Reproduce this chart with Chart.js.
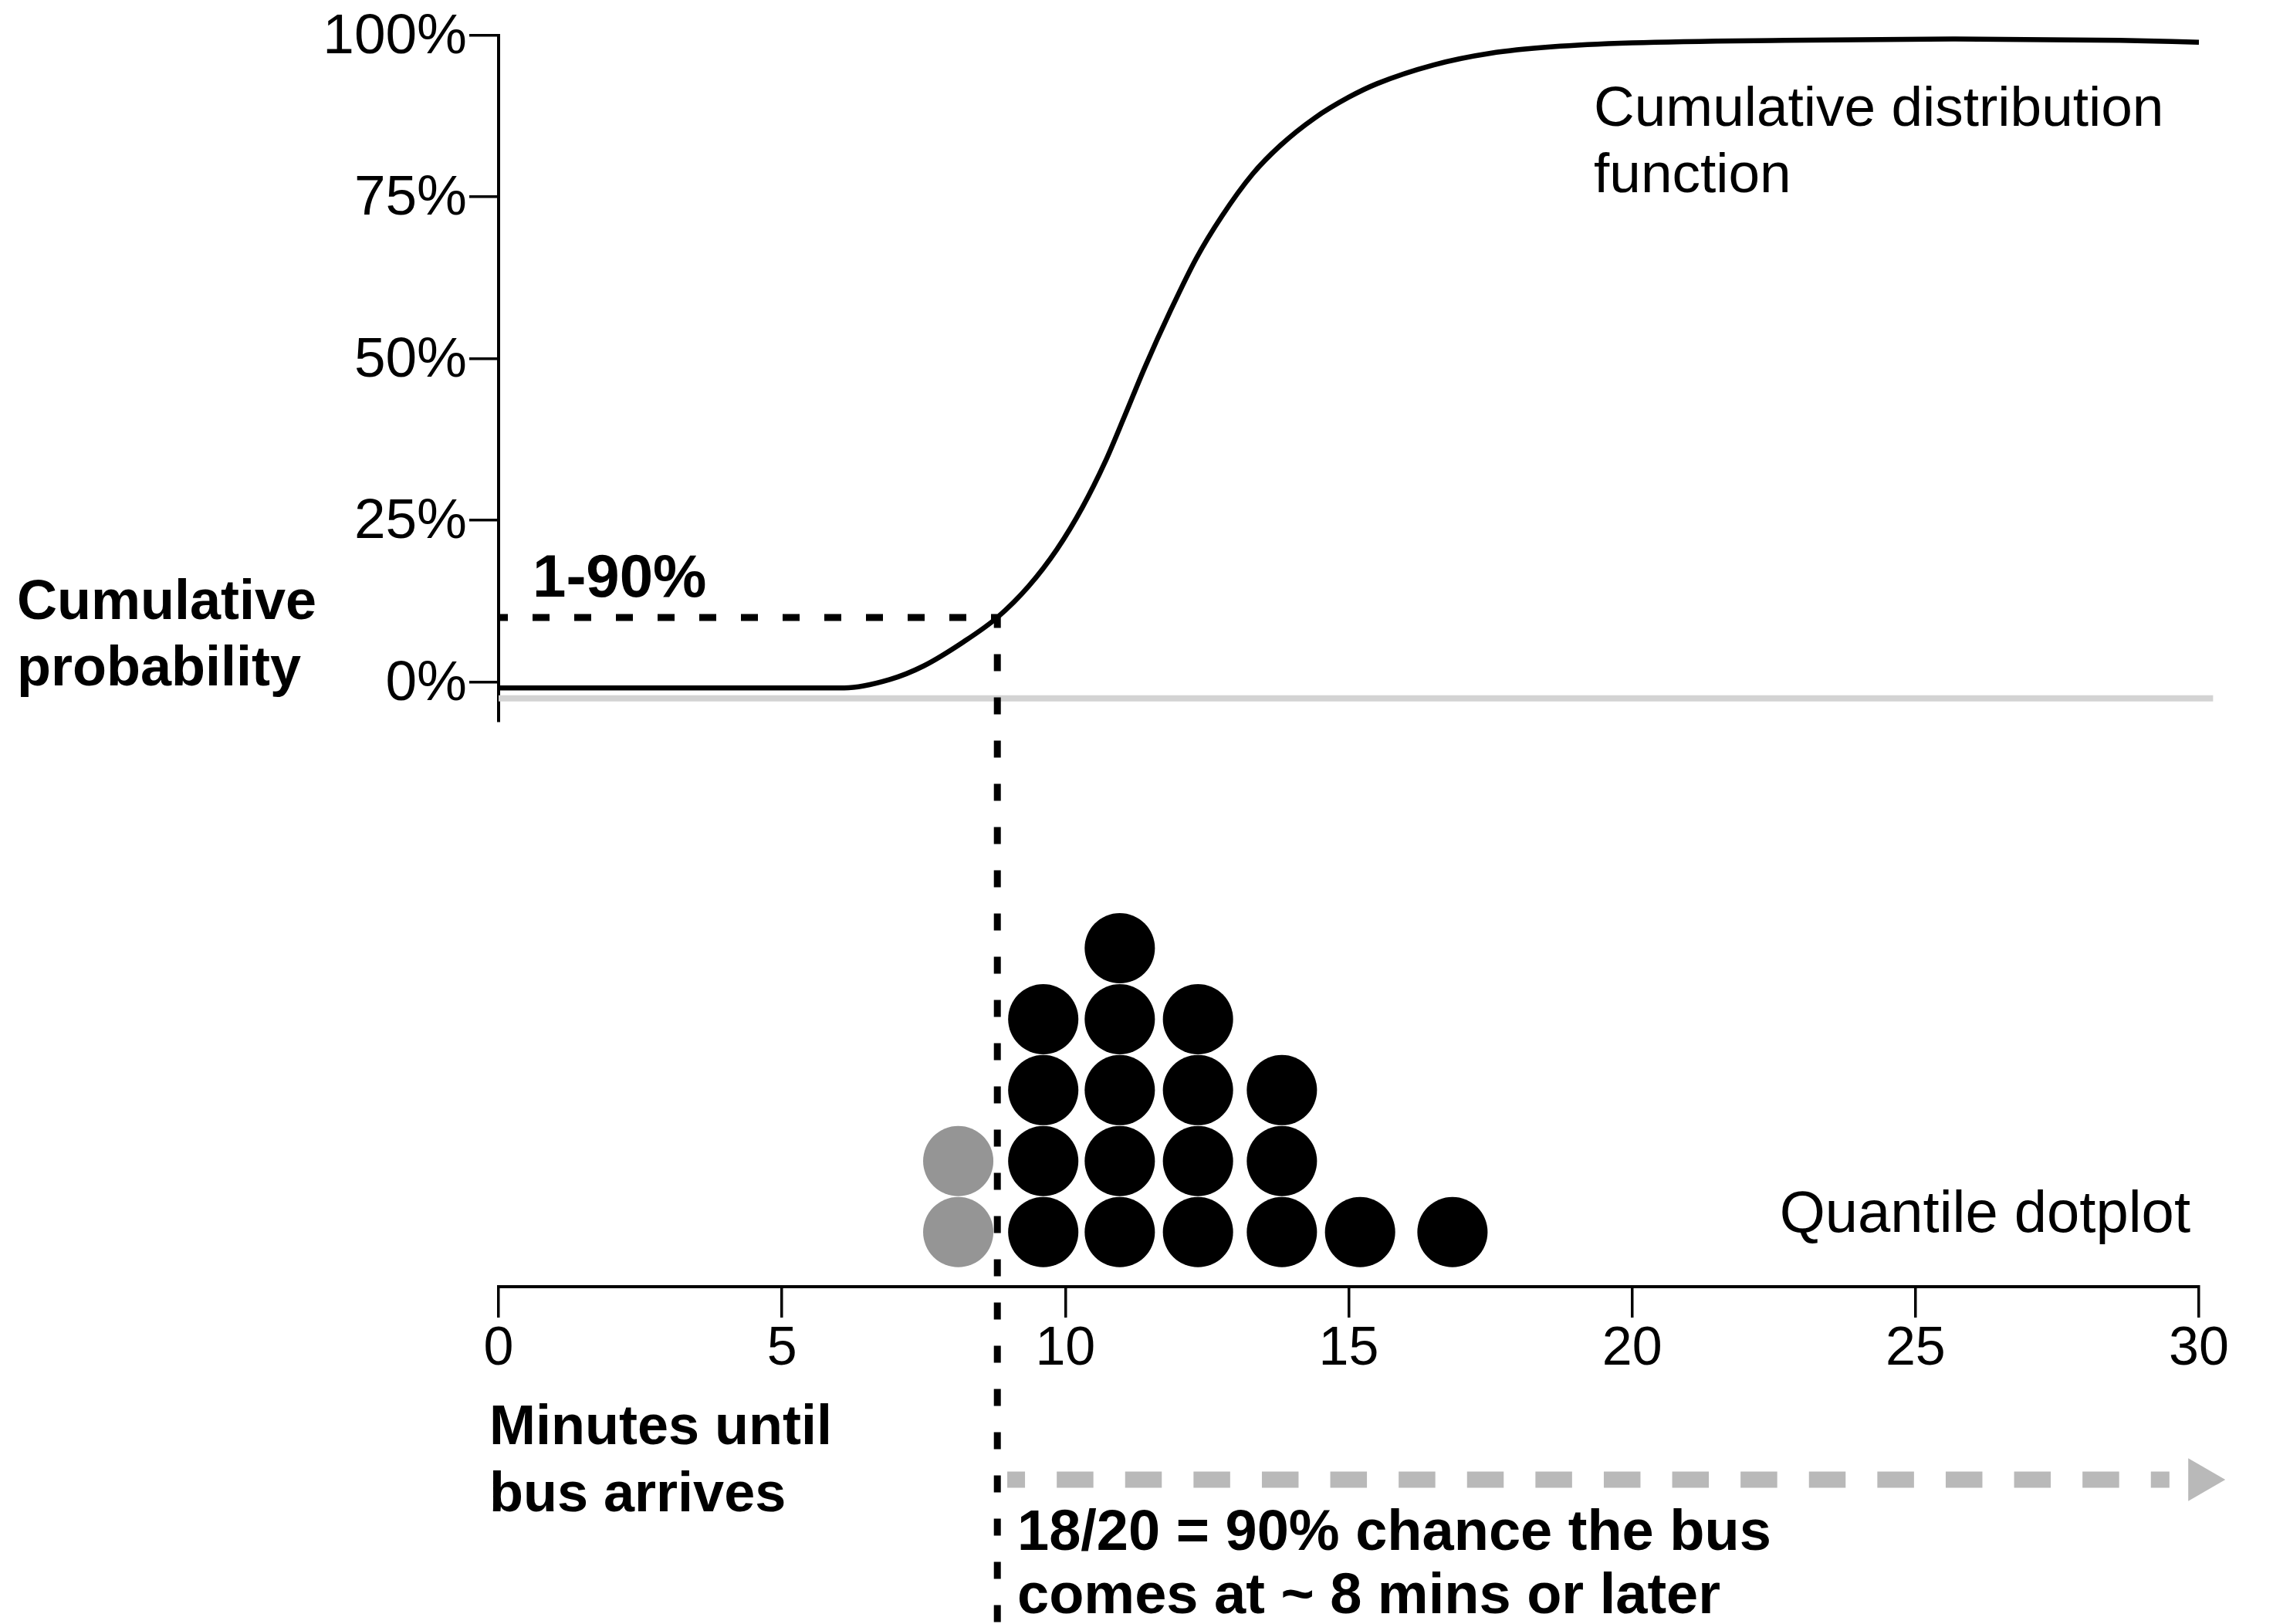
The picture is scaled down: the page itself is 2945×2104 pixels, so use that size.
<!DOCTYPE html>
<html>
<head>
<meta charset="utf-8">
<script src="https://cdn.jsdelivr.net/npm/chart.js@4.4.1/dist/chart.umd.min.js"></script>
<style>
  html, body { margin: 0; padding: 0; background: #ffffff; overflow: hidden; }
  canvas { display: block; }
</style>
</head>
<body>
<canvas id="chart" width="2945" height="2104"></canvas>
<script>
// ---------------- data ----------------
const xTickValues = [0, 5, 10, 15, 20, 25, 30];
const yTickValues = [0, 25, 50, 75, 100];

// Cumulative distribution function (minutes -> cumulative %)
const cdfX = [0, 6.1, 6.9, 7.5, 8.2, 8.8, 9.35, 9.85, 10.3, 10.7, 11.04, 11.4, 11.86, 12.31, 12.76, 13.3, 13.8, 14.4, 15.0, 15.5, 16.5, 17.5, 18.6, 20.0, 22.7, 25.7, 28.6, 30];
const cdfY = [-0.9, -0.9, 0.4, 2.5, 6.2, 10, 14.8, 20.5, 27, 34, 41, 48.6, 57.5, 65.5, 72, 78.5, 83, 87.2, 90.4, 92.5, 95.4, 97.2, 98.2, 98.8, 99.2, 99.4, 99.2, 98.9];

// Quantile dotplot: 20 quantiles stacked in columns
const dotColumnX = [8.11, 9.61, 10.96, 12.34, 13.82, 15.2, 16.83];
const dotColumnCount = [2, 4, 5, 4, 3, 1, 1];

// Threshold guide (1-90% quantile)
const thresholdX = 8.8;
const thresholdP = 10;
const guideBottomP = -150;

// Light reference line under the CDF
const baselineX = [0, 30.25];
const baselineP = -2.5;

// "later" arrow
const arrowX = [8.975, 29.48];
const arrowHeadX = 30.03;
const arrowRow = -3.49;

// Text
const yAxisTitle = ['Cumulative', 'probability'];
const xAxisTitle = ['Minutes until', 'bus arrives'];
const cdfLabel = ['Cumulative distribution', 'function'];
const dotLabel = ['Quantile dotplot'];
const thresholdLabel = ['1-90%'];
const noteLines = ['18/20 = 90% chance the bus', 'comes at ~ 8 mins or later'];

// ---------------- build ----------------
const FONT = "'Liberation Sans', Arial, Helvetica, sans-serif";
const INK = '#000000';
const DOT_GRAY = '#959595';
const ARROW_GRAY = '#b9b9b9';

const dotPoints = [];
const dotColors = [];
dotColumnX.forEach((x, i) => {
  for (let k = 0; k < dotColumnCount[i]; k++) {
    dotPoints.push({ x: x, y: k });
    dotColors.push(x < thresholdX ? DOT_GRAY : INK);
  }
});

const annotations = [
  { lines: yAxisTitle, x: 22, y: 802, gap: 86, align: 'left', bold: true, size: 72 },
  { lines: thresholdLabel, x: 690, y: 773, gap: 86, align: 'left', bold: true, size: 78 },
  { lines: cdfLabel, x: 2065, y: 163, gap: 86, align: 'left', bold: false, size: 73 },
  { lines: dotLabel, x: 2838, y: 1596, gap: 86, align: 'right', bold: false, size: 76 },
  { lines: xAxisTitle, x: 634, y: 1871, gap: 87, align: 'left', bold: true, size: 72 },
  { lines: noteLines, x: 1318, y: 2008, gap: 82, align: 'left', bold: true, size: 74 }
];

const textPlugin = {
  id: 'textAnnotations',
  afterDraw(chart) {
    const ctx = chart.ctx;
    ctx.save();
    ctx.fillStyle = INK;
    ctx.textBaseline = 'alphabetic';
    annotations.forEach(a => {
      ctx.font = (a.bold ? 'bold ' : '') + a.size + 'px ' + FONT;
      ctx.textAlign = a.align;
      a.lines.forEach((t, i) => ctx.fillText(t, a.x, a.y + i * a.gap));
    });
    ctx.restore();
  }
};

// lets a dataset's point elements render outside the plot area (arrow head below the axis)
const outsideAreaPlugin = {
  id: 'outsideArea',
  beforeDatasetDraw(chart, args) {
    if (chart.data.datasets[args.index].drawOutsideArea) {
      chart._savedArea = chart.chartArea;
      chart.chartArea = { left: 0, top: 0, right: chart.width, bottom: chart.height, width: chart.width, height: chart.height };
    }
  },
  afterDatasetDraw(chart) {
    if (chart._savedArea) {
      chart.chartArea = chart._savedArea;
      chart._savedArea = null;
    }
  }
};

const ctx = document.getElementById('chart').getContext('2d');
new Chart(ctx, {
  type: 'scatter',
  data: {
    datasets: [
      {
        label: 'Quantile dotplot',
        type: 'scatter',
        data: dotPoints,
        yAxisID: 'yDots',
        pointRadius: 45.5,
        pointBackgroundColor: dotColors,
        pointBorderWidth: 0,
        borderWidth: 0,
        order: 1,
        clip: false
      },
      {
        label: 'Cumulative distribution function',
        type: 'line',
        data: cdfX.map((x, i) => ({ x: x, y: cdfY[i] })),
        yAxisID: 'y',
        borderColor: INK,
        borderWidth: 6.5,
        pointRadius: 0,
        cubicInterpolationMode: 'monotone',
        fill: false,
        order: 2,
        clip: false
      },
      {
        label: 'threshold horizontal',
        type: 'line',
        data: [{ x: 0, y: thresholdP }, { x: thresholdX, y: thresholdP }],
        yAxisID: 'y',
        borderColor: INK,
        borderWidth: 9,
        borderDash: [22, 32],
        borderDashOffset: 10,
        borderCapStyle: 'butt',
        pointRadius: 0,
        fill: false,
        order: 3,
        clip: false
      },
      {
        label: 'threshold vertical',
        type: 'line',
        data: [{ x: thresholdX, y: thresholdP }, { x: thresholdX, y: guideBottomP }],
        yAxisID: 'y',
        borderColor: INK,
        borderWidth: 9,
        borderDash: [22, 34],
        borderDashOffset: 8.4,
        borderCapStyle: 'butt',
        pointRadius: 0,
        fill: false,
        order: 3,
        clip: false
      },
      {
        label: 'later arrow',
        type: 'line',
        data: arrowX.map(x => ({ x: x, y: arrowRow })),
        yAxisID: 'yDots',
        borderColor: ARROW_GRAY,
        borderWidth: 21,
        borderDash: [47.5, 41.1],
        borderDashOffset: 24.5,
        borderCapStyle: 'butt',
        pointRadius: 0,
        fill: false,
        order: 4,
        clip: false
      },
      {
        label: 'later arrow head',
        type: 'scatter',
        data: [{ x: arrowHeadX, y: arrowRow }],
        yAxisID: 'yDots',
        pointStyle: 'triangle',
        pointRotation: 90,
        pointRadius: 32,
        pointBackgroundColor: ARROW_GRAY,
        pointBorderColor: ARROW_GRAY,
        pointBorderWidth: 0,
        borderWidth: 0,
        order: 4,
        clip: false,
        drawOutsideArea: true
      },
      {
        label: 'zero reference',
        type: 'line',
        data: baselineX.map(x => ({ x: x, y: baselineP })),
        yAxisID: 'y',
        borderColor: '#d3d3d3',
        borderWidth: 8,
        pointRadius: 0,
        fill: false,
        order: 9,
        clip: false
      }
    ]
  },
  options: {
    responsive: false,
    animation: false,
    devicePixelRatio: 1,
    events: [],
    layout: { padding: { top: 44.6, right: 96, bottom: 0, left: 0 } },
    plugins: { legend: { display: false }, tooltip: { enabled: false } },
    scales: {
      x: {
        type: 'linear',
        position: 'bottom',
        min: 0,
        max: 30,
        afterBuildTicks: s => { s.ticks = xTickValues.map(v => ({ value: v })); },
        afterFit: s => { s.height = 437; },
        grid: { drawOnChartArea: false, drawTicks: true, tickLength: 40, color: INK, lineWidth: 3.5 },
        border: { display: true, color: INK, width: 4 },
        ticks: { color: INK, padding: 0, maxRotation: 0, autoSkip: false, font: { family: FONT, size: 70, lineHeight: 1.2 } }
      },
      y: {
        type: 'linear',
        position: 'left',
        stack: 'main',
        stackWeight: 888.4,
        weight: 2,
        min: -5.93,
        max: 100,
        afterBuildTicks: s => { s.ticks = yTickValues.map(v => ({ value: v })); },
        afterFit: s => { s.width = 646; },
        grid: { drawOnChartArea: false, drawTicks: true, tickLength: 38, color: INK, lineWidth: 3.5 },
        border: { display: true, color: INK, width: 4 },
        ticks: { color: INK, padding: 3, labelOffset: 3, callback: v => v + '%', font: { family: FONT, size: 73, lineHeight: 1 } }
      },
      yDots: {
        type: 'linear',
        position: 'left',
        stack: 'main',
        stackWeight: 734,
        weight: 1,
        min: -0.77,
        max: 7.21,
        display: false
      }
    }
  },
  plugins: [outsideAreaPlugin, textPlugin]
});
</script>
</body>
</html>
